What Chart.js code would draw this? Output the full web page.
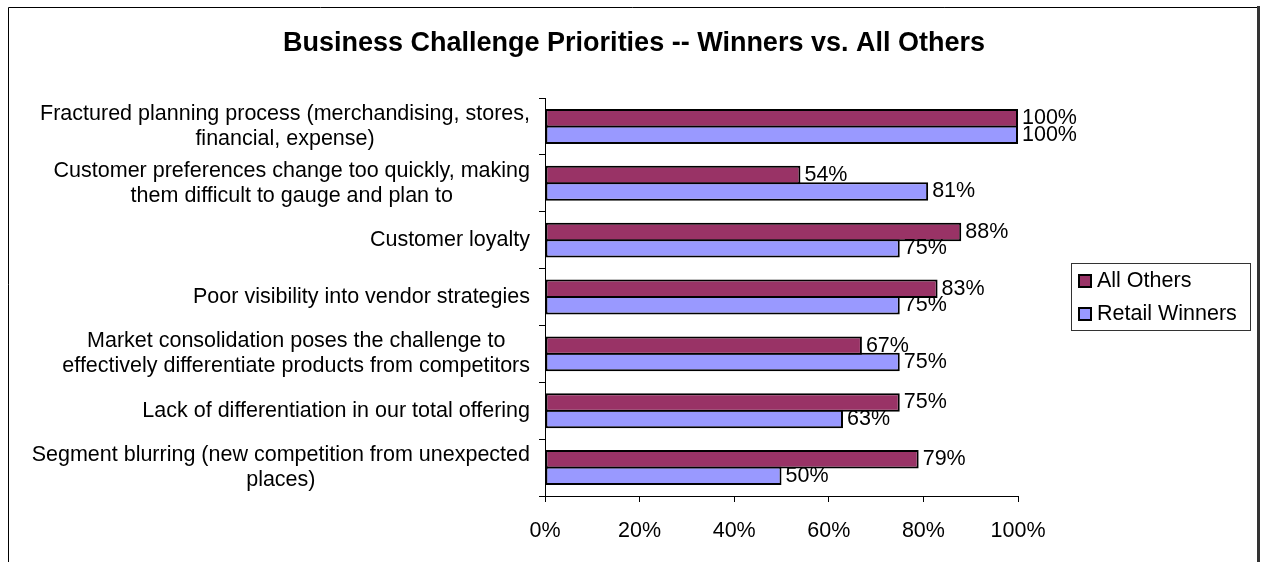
<!DOCTYPE html>
<html>
<head>
<meta charset="utf-8">
<script src="https://cdn.jsdelivr.net/npm/chart.js@4"></script>
<style>
  html, body { margin: 0; padding: 0; background: #fff; }
</style>
</head>
<body>
<canvas id="chart" width="1261" height="562"></canvas>
<script>
const categories = [
  ['Fractured planning process (merchandising, stores,', 'financial, expense)'],
  ['Customer preferences change too quickly, making', 'them difficult to gauge and plan to'],
  ['Customer loyalty'],
  ['Poor visibility into vendor strategies'],
  ['Market consolidation poses the challenge to', 'effectively differentiate products from competitors'],
  ['Lack of differentiation in our total offering'],
  ['Segment blurring (new competition from unexpected', 'places)']
];
const allOthers = [100, 54, 88, 83, 67, 75, 79];
const retailWinners = [100, 81, 75, 75, 75, 63, 50];
const seriesNames = ['All Others', 'Retail Winners'];
const seriesColors = ['#993366', '#9999FF'];
const xMin = 0, xMax = 100, xStep = 20;
const titleText = 'Business Challenge Priorities -- Winners vs. All Others';

const FONT = '"Liberation Sans", Arial, sans-serif';

// white bg, outer frame and title
const frame = {
  id: 'frame',
  beforeDraw(chart) {
    const ctx = chart.ctx;
    ctx.save();
    ctx.fillStyle = '#fff';
    ctx.fillRect(0, 0, chart.width, chart.height);
    ctx.restore();
  },
  afterDraw(chart) {
    const ctx = chart.ctx;
    ctx.save();
    ctx.strokeStyle = '#000';
    ctx.lineWidth = 1;
    ctx.beginPath();
    ctx.moveTo(8.5, 562);
    ctx.lineTo(8.5, 7.5);
    ctx.lineTo(1257, 7.5);
    ctx.stroke();
    ctx.strokeStyle = '#333';
    ctx.lineWidth = 3;
    ctx.beginPath();
    ctx.moveTo(1258.5, 6);
    ctx.lineTo(1258.5, 562);
    ctx.stroke();

    ctx.fillStyle = '#000';
    ctx.font = 'bold 27px ' + FONT;
    ctx.textAlign = 'center';
    ctx.textBaseline = 'middle';
    ctx.fillText(titleText, 634, 44);
    ctx.restore();
  }
};

// category labels: block right aligned, lines centred within block
const catLabels = {
  id: 'catLabels',
  afterDraw(chart) {
    const ctx = chart.ctx;
    const y = chart.scales.y;
    const right = y.right - 15;
    ctx.save();
    ctx.font = '21.5px ' + FONT;
    ctx.fillStyle = '#000';
    ctx.textAlign = 'center';
    ctx.textBaseline = 'middle';
    categories.forEach((lines, i) => {
      const cy = y.getPixelForValue(i);
      const w = Math.max(...lines.map(l => ctx.measureText(l).width));
      const cx = right - w / 2;
      const lh = 25;
      lines.forEach((l, j) => {
        ctx.fillText(l, cx, cy + (j - (lines.length - 1) / 2) * lh);
      });
    });
    ctx.restore();
  }
};

// value labels at bar ends
const valueLabels = {
  id: 'valueLabels',
  afterDatasetsDraw(chart) {
    const ctx = chart.ctx;
    ctx.save();
    ctx.font = '21.5px ' + FONT;
    ctx.fillStyle = '#000';
    ctx.textAlign = 'left';
    ctx.textBaseline = 'middle';
    chart.data.datasets.forEach((ds, di) => {
      chart.getDatasetMeta(di).data.forEach((bar, i) => {
        ctx.fillText(ds.data[i] + '%', bar.x + 4, bar.y);
      });
    });
    ctx.restore();
  }
};

// boxed legend on the right
const legendBox = {
  id: 'legendBox',
  afterDraw(chart) {
    const ctx = chart.ctx;
    ctx.save();
    ctx.strokeStyle = '#333';
    ctx.lineWidth = 1;
    ctx.strokeRect(1071.5, 263.5, 179, 67);
    ctx.font = '21.5px ' + FONT;
    ctx.textAlign = 'left';
    ctx.textBaseline = 'middle';
    chart.data.datasets.forEach((ds, i) => {
      const cy = 281 + i * 33;
      ctx.fillStyle = ds.backgroundColor;
      ctx.fillRect(1079, cy - 6, 12, 12);
      ctx.strokeStyle = '#000';
      ctx.lineWidth = 2;
      ctx.strokeRect(1079, cy - 6, 12, 12);
      ctx.fillStyle = '#000';
      ctx.fillText(ds.label, 1097, cy);
    });
    ctx.restore();
  }
};

const data = {
  labels: categories,
  datasets: [
    {
      label: seriesNames[0],
      data: allOthers,
      backgroundColor: seriesColors[0],
      borderColor: '#000',
      borderWidth: 2,
      borderSkipped: false,
      categoryPercentage: 0.58,
      barPercentage: 1.12
    },
    {
      label: seriesNames[1],
      data: retailWinners,
      backgroundColor: seriesColors[1],
      borderColor: '#000',
      borderWidth: 2,
      borderSkipped: false,
      categoryPercentage: 0.58,
      barPercentage: 1.12
    }
  ]
};

const config = {
  type: 'bar',
  data: data,
  options: {
    indexAxis: 'y',
    responsive: false,
    animation: false,
    layout: { padding: { left: 0, right: 243, top: 98, bottom: 0 } },
    scales: {
      x: {
        min: xMin,
        max: xMax,
        ticks: {
          stepSize: xStep,
          padding: 16,
          color: '#000',
          font: { family: FONT, size: 21.5 },
          callback: v => v + '%'
        },
        grid: { drawOnChartArea: false, tickLength: 6, color: '#000' },
        border: { color: '#000' },
        afterFit(scale) { scale.height = 66; }
      },
      y: {
        ticks: { display: false },
        grid: { drawOnChartArea: false, tickLength: 6, color: '#000', offset: true },
        border: { color: '#000' },
        afterFit(scale) { scale.width = 545; }
      }
    },
    plugins: {
      legend: { display: false },
      tooltip: { enabled: false },
      title: { display: false }
    }
  },
  plugins: [frame, catLabels, valueLabels, legendBox]
};

const chart = new Chart(document.getElementById('chart'), config);
</script>
</body>
</html>
